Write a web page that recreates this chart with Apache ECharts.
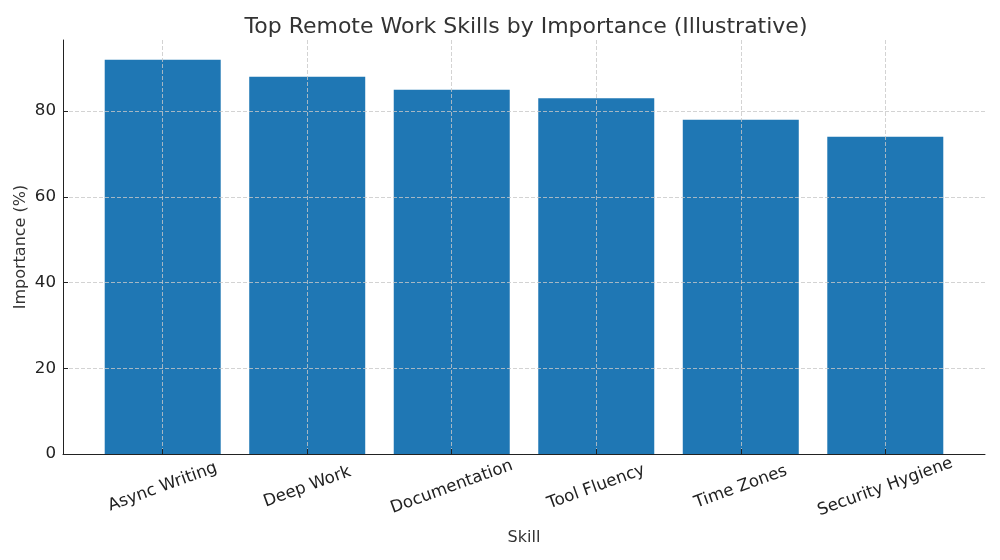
<!DOCTYPE html>
<html>
<head>
<meta charset="utf-8">
<script src="https://cdn.jsdelivr.net/npm/echarts@6/dist/echarts.min.js"></script>
<style>
html, body { margin: 0; padding: 0; background: #fff; }
#main { width: 1000px; height: 560px; }
</style>
</head>
<body>
<div id="main"></div>
<script>
// data
var skills = ['Async Writing', 'Deep Work', 'Documentation', 'Tool Fluency', 'Time Zones', 'Security Hygiene'];
var importance = [92, 88, 85, 83, 78, 74];
var yTicks = [0, 20, 40, 60, 80];
var xTicks = [0, 1, 2, 3, 4, 5];

var font = 'DejaVu Sans';
var gridLine = { show: true, lineStyle: { color: '#c8c8c8', width: 0.8, type: [4, 2] } };

var myChart = echarts.init(document.getElementById('main'));
var option = {
    backgroundColor: '#fff',
    animation: false,
    title: {
        text: 'Top Remote Work Skills by Importance (Illustrative)',
        left: 521,
        top: 11,
        textAlign: 'center',
        textStyle: { fontFamily: font, fontSize: 22, fontWeight: 'normal', color: '#333' }
    },
    grid: { left: 63, right: 15, top: 40, bottom: 106 },
    xAxis: {
        type: 'value',
        min: -0.69,
        max: 5.69,
        z: 3,
        name: 'Skill',
        nameLocation: 'middle',
        nameGap: 84,
        nameMoveOverlap: false,
        nameTextStyle: { fontFamily: font, fontSize: 16, color: '#333', verticalAlign: 'middle' },
        axisLine: { onZero: false, lineStyle: { color: '#222', width: 1 } },
        axisTick: { inside: true, length: 5, customValues: xTicks, lineStyle: { color: '#222' } },
        axisLabel: {
            customValues: xTicks,
            formatter: function (v) { return skills[Math.round(v)]; },
            rotate: 20,
            align: 'center',
            verticalAlign: 'middle',
            margin: 33,
            fontFamily: font,
            fontSize: 16.7,
            color: '#222'
        },
        splitLine: gridLine
    },
    yAxis: {
        type: 'value',
        min: 0,
        max: 96.6,
        z: 3,
        name: 'Importance (%)',
        nameLocation: 'middle',
        nameGap: 34,
        nameMoveOverlap: false,
        nameTextStyle: { fontFamily: font, fontSize: 16, color: '#333' },
        axisLine: { show: true, onZero: false, lineStyle: { color: '#222', width: 1 } },
        axisTick: { show: true, inside: true, length: 5, customValues: yTicks, lineStyle: { color: '#222' } },
        axisLabel: { customValues: yTicks, margin: 7, fontFamily: font, fontSize: 16.7, color: '#222' },
        splitLine: gridLine
    },
    series: [{
        type: 'bar',
        barWidth: 116,
        itemStyle: { color: '#1f77b4' },
        data: skills.map(function (s, i) { return [i, importance[i]]; })
    }]
};
myChart.setOption(option);
</script>
</body>
</html>
